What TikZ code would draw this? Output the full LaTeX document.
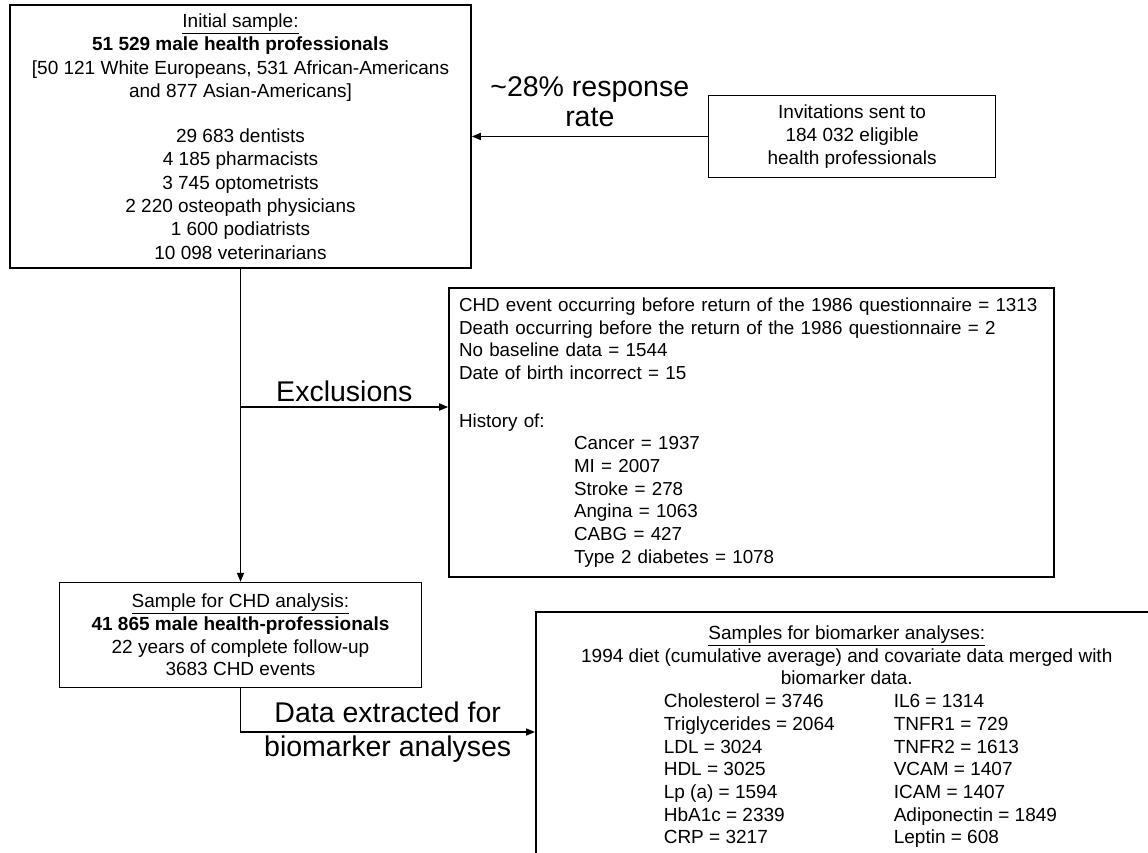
\documentclass[tikz,border=0pt]{standalone}
\usepackage{fontspec}
\setmainfont{Liberation Sans}
\usetikzlibrary{positioning, arrows.meta}

% one row of the biomarker list (two columns)
\newcommand{\bmrow}[2]{\makebox[366pt][l]{\makebox[230pt][l]{#1}#2}}

\begin{document}
\begin{tikzpicture}[
            x=1pt, y=-1pt,
            >={Triangle[length=9pt, width=7pt]},
            base/.style = {rectangle, draw=black, line width=1.6pt, font=\fontsize{19}{22.7}\selectfont},
            sample/.style = {base, align=center},
            exclbox/.style = {base, align=left, inner xsep=10pt, font=\fontsize{18.8}{22.7}\selectfont},
            lbl/.style = {inner sep=2pt, align=center, font=\fontsize{28.5}{30}\selectfont},
            link/.style = {->, line width=1.6pt}
        ]
            \useasboundingbox (0,0) rectangle (1148,852);
            \clip (0,0) rectangle (1148,852);

            % --- 1. Nodes ---
            \node [sample, minimum width=461pt, minimum height=263pt, font=\fontsize{19}{23.3}\selectfont] (initial) at (240.5,136.5)
                {\underline{Initial sample:}\\ \textbf{51 529 male health professionals}\\ {[}50 121 White Europeans, 531 African-Americans\\ and 877 Asian-Americans{]}\\[22pt]
                 29 683 dentists\\ 4 185 pharmacists\\ 3 745 optometrists\\ 2 220 osteopath physicians\\ 1 600 podiatrists\\ 10 098 veterinarians};
            \node [sample, minimum width=287pt, minimum height=82pt, right=236pt of initial] (invite)
                {Invitations sent to\\ 184 032 eligible\\ health professionals};

            \node [sample, minimum width=362pt, minimum height=105pt, below=313pt of initial] (chd)
                {\underline{Sample for CHD analysis:}\\ \textbf{41 865 male health-professionals}\\ 22 years of complete follow-up\\ 3683 CHD events};

            \node [exclbox, text width=585pt, minimum height=289pt] (exclusions) at (751.5,432.5)
                {CHD event occurring before return of the 1986 questionnaire = 1313\\
                 Death occurring before the return of the 1986 questionnaire = 2\\
                 No baseline data = 1544\\
                 Date of birth incorrect = 15\\[25pt]
                 History of:\\
                 \hspace*{115pt}Cancer = 1937\\
                 \hspace*{115pt}MI = 2007\\
                 \hspace*{115pt}Stroke = 278\\
                 \hspace*{115pt}Angina = 1063\\
                 \hspace*{115pt}CABG = 427\\
                 \hspace*{115pt}Type 2 diabetes = 1078};

            % box runs off the page at the right and bottom
            \node [sample, anchor=north west, minimum width=622pt, inner ysep=14pt, text depth=260pt] (bio) at (535,611)
                {\underline{Samples for biomarker analyses:}\\
                 1994 diet (cumulative average) and covariate data merged with\\
                 biomarker data.\\
                 \bmrow{Cholesterol = 3746}{IL6 = 1314}\\
                 \bmrow{Triglycerides = 2064}{TNFR1 = 729}\\
                 \bmrow{LDL = 3024}{TNFR2 = 1613}\\
                 \bmrow{HDL = 3025}{VCAM = 1407}\\
                 \bmrow{Lp (a) = 1594}{ICAM = 1407}\\
                 \bmrow{HbA1c = 2339}{Adiponectin = 1849}\\
                 \bmrow{CRP = 3217}{Leptin = 608}};

            \coordinate (split) at (initial.south |- 0,407);
            \coordinate (turn) at (chd.south |- 0,732);

            % --- 2. Connections ---
            \draw [link] (invite.west) -- node[lbl, above=7pt] {\textasciitilde28\% response\\ rate} (invite.west -| initial.east);
            \draw [link] (initial.south) -- (chd.north);

            % Exclusions branch off the main line
            \draw [link] (split) -- node[lbl, above=2pt] {Exclusions} (split -| exclusions.west);

            % label sits across the line
            \draw [link] (chd.south) -- (turn) -- node[lbl, font=\fontsize{28.5}{34}\selectfont] {Data extracted for\\ biomarker analyses} (turn -| bio.west);

        \end{tikzpicture}
\end{document}
